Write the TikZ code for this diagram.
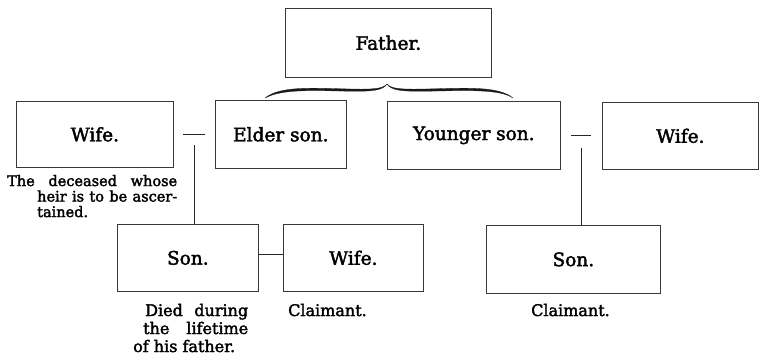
\documentclass[tikz,border=0pt]{standalone}
\usepackage{fontspec}
\setmainfont{DejaVu Serif}[FakeBold=2.2]
\usetikzlibrary{calc}
\tikzset{
  kin/.style={draw=black!78, line width=0.7pt, inner sep=0pt, anchor=north west,
    font=\fontsize{18.5}{21}\selectfont},
  tie/.style={draw=black!85, line width=0.8pt},
  note/.style={inner sep=0pt, anchor=base west, align=left},
  bracefill/.style={fill=black!90, draw=black!90, line width=0.3pt}
}
\begin{document}
\begin{tikzpicture}[x=1pt,y=-1pt]
\useasboundingbox[fill=white] (0,0) rectangle (760,360);

% persons
\node[kin, minimum width=206pt, minimum height=69pt] (father)  at (285,8)   {Father.};
\node[kin, minimum width=157pt, minimum height=66pt] (wifeA)   at (16,101)  {Wife.};
\node[kin, minimum width=131pt, minimum height=68pt] (elder)   at (215,100) {Elder son.};
\node[kin, minimum width=173pt, minimum height=68pt] (younger) at (387,101) {Younger son.};
\node[kin, minimum width=156pt, minimum height=67pt] (wifeB)   at (602,102) {Wife.};
\node[kin, minimum width=141pt, minimum height=67pt] (sonA)    at (117,224) {Son.};
\node[kin, minimum width=140pt, minimum height=67pt] (wifeC)   at (283,224) {Wife.};
\node[kin, minimum width=174pt, minimum height=68pt] (sonB)    at (486,225) {Son.};

% brace under the father
\path[bracefill]
  (265,98) .. controls (280,86) and (310,88) .. (350,89)
           .. controls (372,89.5) and (383,89) .. (387,84)
           .. controls (383,90.5) and (372,91.5) .. (350,91.2)
           .. controls (310,90.5) and (282,89) .. (265,98) -- cycle;
\path[bracefill]
  (387,84) .. controls (391,89) and (402,89.5) .. (426,89)
           .. controls (468,88) and (498,86) .. (513,98)
           .. controls (500,89) and (468,90.5) .. (426,91.2)
           .. controls (402,91.5) and (391,90.5) .. (387,84) -- cycle;

% marriages and descent
\coordinate (jA) at ($(wifeA.east)!0.5!(elder.west)$);
\coordinate (jB) at ($(younger.east)!0.5!(wifeB.west)$);
\draw[tie] ($(jA)+(-11,0)$) -- ($(jA)+(11,0)$);
\draw[tie] ($(jA)+(0,11)$) -- (jA |- sonA.north);
\draw[tie] ($(jB)+(-10,0)$) -- ($(jB)+(10,0)$);
\draw[tie] ($(jB)+(0,12)$) -- (jB |- sonB.north);
\draw[tie] ($(sonA.east)+(0,-3.5)$) -- ($(wifeC.west)+(0,-3.5)$);

% remarks (anchored at the baseline of the last line)
\node[note, font=\fontsize{14.5}{15.5}\selectfont] (deceased) at (7,217)
  {\makebox[170pt][s]{The deceased whose}\\
   \hspace*{30pt}\makebox[140pt][s]{heir is to be ascer-}\\
   \hspace*{30pt}tained.};
\node[note, font=\fontsize{16}{18}\selectfont] (died) at (133,352)
  {\hspace*{12pt}\makebox[103pt][s]{Died during}\\
   \hspace*{10pt}\makebox[105pt][s]{the lifetime}\\
   of his father.};
\node[note, font=\fontsize{16}{18}\selectfont] (claimA) at (288,316) {Claimant.};
\node[note, font=\fontsize{16}{18}\selectfont] (claimB) at (531,316) {Claimant.};
\end{tikzpicture}
\end{document}
